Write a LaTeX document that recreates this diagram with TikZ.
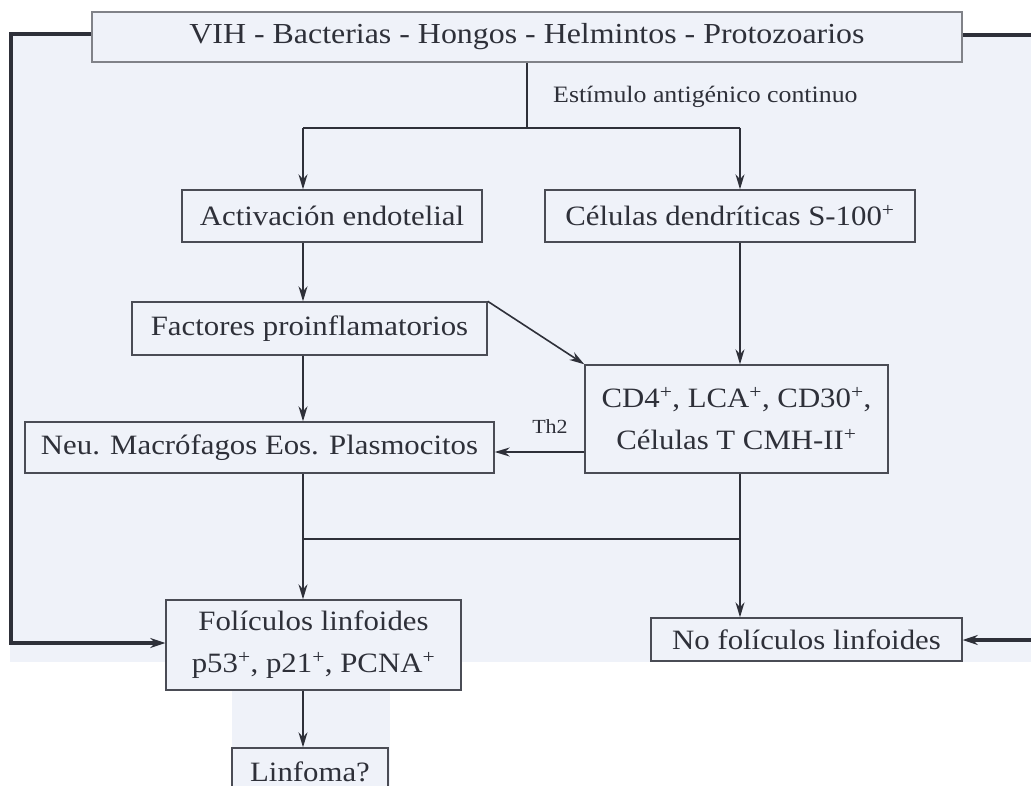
\documentclass[tikz,border=0pt]{standalone}
\usepackage{fontspec}
\setmainfont{Liberation Serif}[FakeStretch=1.1]
\usetikzlibrary{arrows.meta}
\definecolor{tint}{HTML}{EFF2F9}
\definecolor{ink}{HTML}{2E3039}
\definecolor{frame}{HTML}{4A4C55}
\tikzset{
  box/.style={draw=frame, line width=1.4pt, fill=tint, inner sep=0pt, text=ink, align=center, font=\fontsize{28}{42}\selectfont},
  topbox/.style={box, draw=frame!70, line width=2.6pt, font=\fontsize{29}{42}\selectfont},
  link/.style={draw=ink, line width=1.6pt},
  arr/.style={link, -{Stealth[length=15pt,width=9pt]}},
  thick link/.style={draw=ink, line width=3.2pt},
  thick arr/.style={thick link, -{Stealth[length=15pt,width=10pt]}},
  lbl/.style={text=ink, inner sep=0pt, anchor=west},
}
\begin{document}
\begin{tikzpicture}[x=1pt,y=-1pt]
\useasboundingbox (0,0) rectangle (1031,786);
\clip (0,0) rectangle (1031,786);
% page tint
\fill[tint] (10,33) rectangle (1031,662);
\fill[tint] (232,662) rectangle (390,786);

\node[topbox, minimum width=870pt, minimum height=50pt] (top) at (527,37) {VIH - Bacterias - Hongos - Helmintos - Protozoarios};
\node[box, minimum width=300pt, minimum height=52pt] (act) at (332,216) {Activación endotelial};
\node[box, minimum width=370pt, minimum height=52pt] (cel) at (730,216) {Células dendríticas S-100\textsuperscript{+}};
\node[box, minimum width=355pt, minimum height=53pt] (fac) at (309.5,328.5) {Factores proinflamatorios};
\node[box, minimum width=303pt, minimum height=108pt] (cd4) at (736.5,419) {CD4\textsuperscript{+}, LCA\textsuperscript{+}, CD30\textsuperscript{+},\\Células T CMH-II\textsuperscript{+}};
\node[box, minimum width=469pt, minimum height=51pt] (neu) at (259.5,447.5) {Neu. Macrófagos Eos. Plasmocitos};
\node[box, minimum width=295pt, minimum height=90pt] (fol) at (313.5,645) {Folículos linfoides\\p53\textsuperscript{+}, p21\textsuperscript{+}, PCNA\textsuperscript{+}};
\node[box, minimum width=156pt, minimum height=48pt] (lin) at (310,772) {Linfoma?};
\node[box, minimum width=311pt, minimum height=43pt] (nof) at (806.5,639.5) {No folículos linfoides};

\node[lbl, font=\fontsize{23.5}{26}\selectfont] (est) at (553,97) {Estímulo antigénico continuo};
\node[text=ink, inner sep=0pt, font=\fontsize{20}{24}\selectfont] (th2) at (550,427) {Th2};

\coordinate (split) at (527,128);
\coordinate (sl) at (303,128);
\coordinate (sr) at (740,128);
\draw[link] (top.south -| split) -- (split);
\draw[link] (sl) -- (sr);
\draw[arr] (sl) -- (sl |- act.north);
\draw[arr] (sr) -- (sr |- cel.north);
\draw[arr] (sl |- act.south) -- (sl |- fac.north);
\draw[arr] (sl |- fac.south) -- (sl |- neu.north);
\draw[arr] (fac.north east) -- (cd4.north west);
\draw[arr] (sr |- cel.south) -- (sr |- cd4.north);
\coordinate (th2y) at (0,452);
\draw[arr] (cd4.west |- th2y) -- (neu.east |- th2y);
\coordinate (jl) at (303,539);
\coordinate (jr) at (740,539);
\draw[arr] (sl |- neu.south) -- (sl |- fol.north);
\draw[arr] (sr |- cd4.south) -- (sr |- nof.north);
\draw[link] (jl) -- (jr);
\draw[arr] (sl |- fol.south) -- (sl |- lin.north);

% outer feedback lines
\coordinate (lt) at (11,34);
\coordinate (lb) at (11,643);
\draw[thick arr] (top.west |- lt) -- (lt) -- (lb) -- (fol.west |- lb);
\coordinate (rt) at (1034,35);
\coordinate (rb) at (1034,640);
\draw[thick link] (top.east |- rt) -- (rt);
\draw[thick arr] (rb) -- (nof.east |- rb);
\end{tikzpicture}
\end{document}
